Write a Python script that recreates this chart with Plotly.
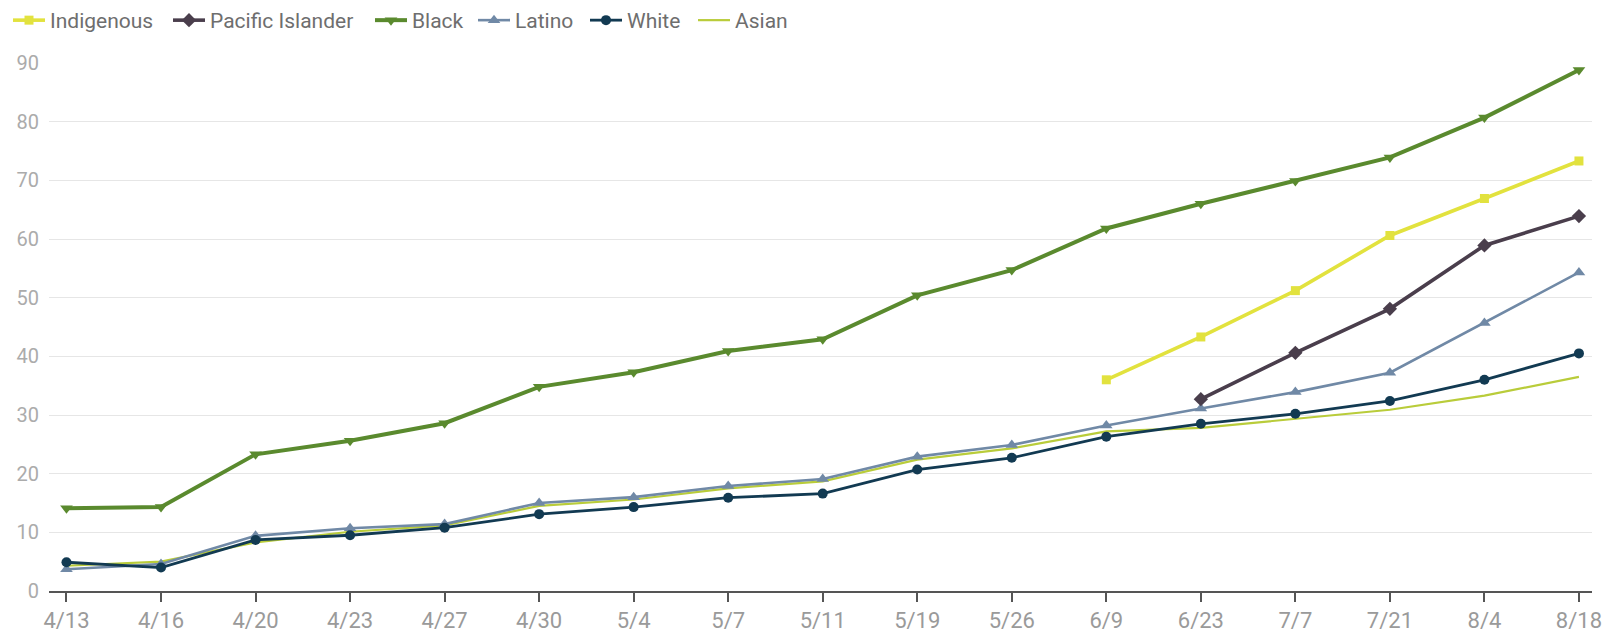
import plotly.graph_objects as go

dates = ["4/13", "4/16", "4/20", "4/23", "4/27", "4/30", "5/4", "5/7", "5/11",
         "5/19", "5/26", "6/9", "6/23", "7/7", "7/21", "8/4", "8/18"]

indigenous = [None, None, None, None, None, None, None, None, None,
              None, None, 36.0, 43.3, 51.2, 60.6, 66.9, 73.3]
pacific_islander = [None, None, None, None, None, None, None, None, None,
                    None, None, None, 32.7, 40.6, 48.1, 58.9, 63.9]
black = [14.1, 14.3, 23.3, 25.6, 28.6, 34.8, 37.3, 40.9, 42.9,
         50.4, 54.7, 61.8, 66.0, 69.9, 73.9, 80.7, 88.8]
latino = [3.7, 4.6, 9.4, 10.7, 11.4, 15.0, 16.0, 17.9, 19.1,
          22.9, 24.9, 28.2, 31.1, 33.9, 37.2, 45.7, 54.3]
white = [4.9, 4.0, 8.7, 9.5, 10.8, 13.1, 14.3, 15.9, 16.6,
         20.7, 22.7, 26.3, 28.5, 30.2, 32.4, 36.0, 40.5]
asian = [4.3, 5.0, 8.3, 10.1, 11.2, 14.5, 15.6, 17.5, 18.7,
         22.4, 24.3, 27.2, 27.8, 29.3, 30.9, 33.3, 36.5]

W, H = 1603, 635

# name, values, color, line width, marker symbol, marker size, legend id, legend x (px)
series = [
    ("Asian", asian, "#b9cc3a", 2.2, None, 0, "legend6", 693),
    ("Latino", latino, "#7089a6", 2.6, "triangle-up", 11, "legend4", 473),
    ("White", white, "#123a52", 2.8, "circle", 10, "legend5", 585),
    ("Black", black, "#5a8a2e", 4, "triangle-down", 11, "legend3", 370),
    ("Pacific Islander", pacific_islander, "#4a3e4c", 3.6, "diamond", 11, "legend2", 168),
    ("Indigenous", indigenous, "#e2e23e", 3.6, "square", 9, "legend", 8),
]

fig = go.Figure()
legends = {}
for name, vals, color, w, sym, size, lg, lx in series:
    if sym is None:
        fig.add_trace(go.Scatter(
            x=dates, y=vals, name=name, mode="lines",
            line=dict(color=color, width=w), legend=lg,
            cliponaxis=False))
    else:
        fig.add_trace(go.Scatter(
            x=dates, y=vals, name=name, mode="lines+markers",
            line=dict(color=color, width=w),
            marker=dict(symbol=sym, size=size, color=color),
            legend=lg, cliponaxis=False))
    legends[lg] = dict(
        orientation="h", x=lx / W, y=1.0,
        xref="container", yref="container",
        xanchor="left", yanchor="top",
        font=dict(size=21, color="#6e6e6e"),
        itemwidth=32, bgcolor="rgba(0,0,0,0)",
    )

fig.update_layout(
    width=W, height=H,
    margin=dict(l=49, r=11, t=63, b=44, autoexpand=False),
    plot_bgcolor="white", paper_bgcolor="white",
    font=dict(family="Roboto", color="#888888", size=20),
    showlegend=True,
    **legends,
)
fig.update_xaxes(
    type="category", range=[-0.185, 16.138], automargin=False,
    showgrid=False, showline=True, linecolor="#555555", linewidth=1.5,
    ticks="outside", ticklen=9, tickcolor="#555555", tickwidth=1.5,
    tickfont=dict(size=22, color="#9a9a9a"), ticklabelstandoff=0,
)
fig.update_yaxes(
    range=[0, 90], dtick=10, showgrid=True, gridcolor="#e6e6e6", gridwidth=1,
    zeroline=False, showline=False, ticks="", automargin=False,
    tickfont=dict(size=20, color="#ababab"), ticklabelstandoff=9,
)

fig.write_html("out.html")
